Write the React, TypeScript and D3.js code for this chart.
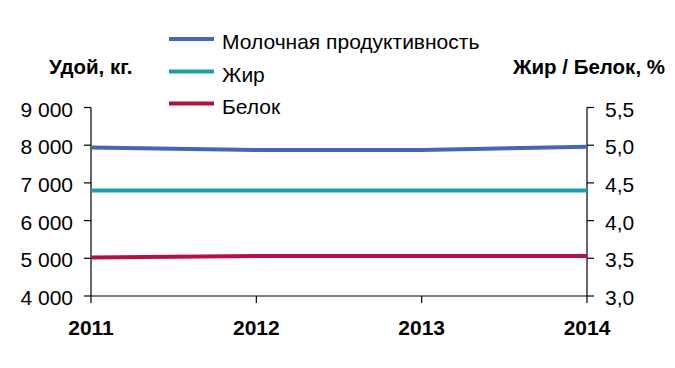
import React from "react";
import * as d3 from "d3";

const years = ["2011", "2012", "2013", "2014"];
const milk = [7940, 7870, 7870, 7960];
const fat = [4.4, 4.4, 4.4, 4.4];
const protein = [3.51, 3.53, 3.53, 3.53];
const leftTicks = [4000, 5000, 6000, 7000, 8000, 9000];
const rightTicks = [3.0, 3.5, 4.0, 4.5, 5.0, 5.5];
const seriesNames = ["Молочная продуктивность", "Жир", "Белок"];
const colors = ["#4667b3", "#1b9fa8", "#b2123d"];

const W = 675;
const H = 368;
const FONT = "'Liberation Sans', Arial, sans-serif";

export default function App() {
  const x = d3.scalePoint<string>().domain(years).range([91, 587]);
  const yL = d3.scaleLinear().domain([4000, 9000]).range([296, 107.5]);
  const yR = d3.scaleLinear().domain([3.0, 5.5]).range([296, 107.5]);
  const fmtL = (v: number) => d3.format(",")(v).replace(",", " ");
  const fmtR = (v: number) => v.toFixed(1).replace(".", ",");

  const lineL = d3.line<number>().x((_, i) => x(years[i])!).y((d) => yL(d));
  const lineR = d3.line<number>().x((_, i) => x(years[i])!).y((d) => yR(d));

  const paths = [lineL(milk), lineR(fat), lineR(protein)];
  const legendY = [39, 71.5, 103.5];

  return (
    <svg
      width={W}
      height={H}
      style={{ position: "absolute", left: 0, top: 0, background: "#fff" }}
      fontFamily={FONT}
    >
      {/* axis titles */}
      <text x={49} y={74} fontSize={20.5} fontWeight="bold" fill="#000">
        Удой, кг.
      </text>
      <text x={665} y={74} fontSize={20.5} fontWeight="bold" fill="#000" textAnchor="end">
        Жир / Белок, %
      </text>

      {/* legend */}
      {seriesNames.map((n, i) => (
        <g key={n}>
          <line x1={169} x2={214} y1={legendY[i]} y2={legendY[i]} stroke={colors[i]} strokeWidth={4} />
          <text x={222} y={legendY[i] + 10} fontSize={21} fill="#000">
            {n}
          </text>
        </g>
      ))}

      {/* left axis */}
      <line x1={91} x2={91} y1={yL(9000)} y2={yL(4000)} stroke="#000" strokeWidth={1.2} />
      {leftTicks.map((t) => (
        <g key={t}>
          <line x1={84} x2={91} y1={yL(t)} y2={yL(t)} stroke="#000" strokeWidth={1.2} />
          <text x={73} y={yL(t) + 9} fontSize={21} textAnchor="end" fill="#000">
            {fmtL(t)}
          </text>
        </g>
      ))}

      {/* right axis */}
      <line x1={587} x2={587} y1={yR(5.5)} y2={yR(3.0)} stroke="#000" strokeWidth={1.2} />
      {rightTicks.map((t) => (
        <g key={t}>
          <line x1={587} x2={594} y1={yR(t)} y2={yR(t)} stroke="#000" strokeWidth={1.2} />
          <text x={605} y={yR(t) + 9} fontSize={21} fill="#000">
            {fmtR(t)}
          </text>
        </g>
      ))}

      {/* x axis */}
      <line x1={91} x2={587} y1={296} y2={296} stroke="#000" strokeWidth={1.2} />
      {years.map((yr) => (
        <g key={yr}>
          <line x1={x(yr)} x2={x(yr)} y1={296} y2={303} stroke="#000" strokeWidth={1.2} />
          <text x={x(yr)} y={335} fontSize={21} fontWeight="bold" textAnchor="middle" fill="#000">
            {yr}
          </text>
        </g>
      ))}

      {/* series */}
      {paths.map((p, i) => (
        <path key={i} d={p!} fill="none" stroke={colors[i]} strokeWidth={4} />
      ))}
    </svg>
  );
}
